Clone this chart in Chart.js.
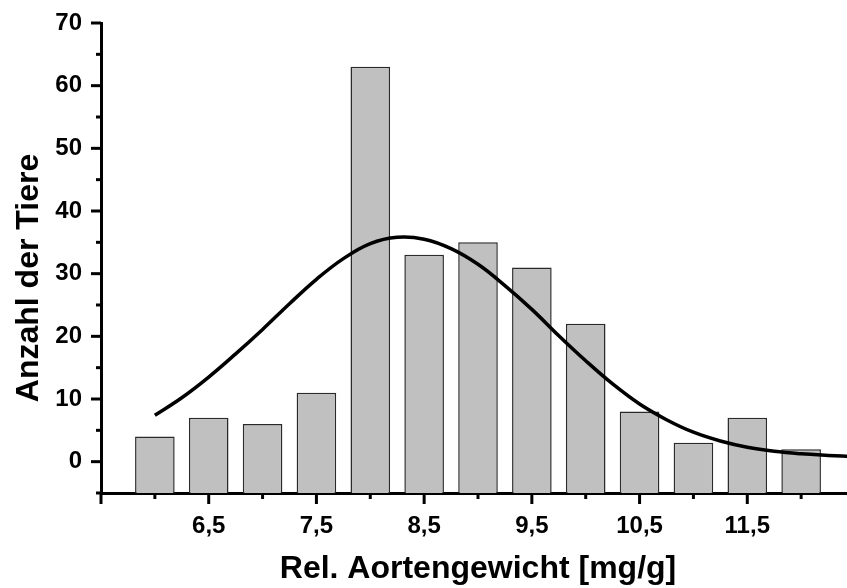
<!DOCTYPE html>
<html>
<head>
<meta charset="utf-8">
<title>Rel. Aortengewicht</title>
<script src="https://cdn.jsdelivr.net/npm/chart.js@4.4.0/dist/chart.umd.min.js"></script>
<style>
  html, body { margin: 0; padding: 0; background: #fff; overflow: hidden; }
  #wrap { width: 847px; height: 588px; overflow: hidden; }
</style>
</head>
<body>
<div id="wrap"><canvas id="histChart" width="855" height="588"></canvas></div>
<script>
// histogram bins (class centre in mg/g) and number of animals per bin
const binCenters = [6, 6.5, 7, 7.5, 8, 8.5, 9, 9.5, 10, 10.5, 11, 11.5, 12];
const animalCounts = [4, 7, 6, 11, 63, 33, 35, 31, 22, 8, 3, 7, 2];

// fitted normal curve, sampled every 0.25 mg/g
const fitX = [6, 6.25, 6.5, 6.75, 7, 7.25, 7.5, 7.75, 8, 8.25, 8.5, 8.75, 9,
              9.25, 9.5, 9.75, 10, 10.25, 10.5, 10.75, 11, 11.25, 11.5, 11.75, 12, 12.25, 12.5];
const fitY = [7.4, 10.2, 13.5, 17.2, 21.1, 25.2, 29.1, 32.4, 34.8, 35.8, 35.5, 34.0, 31.5,
              28.1, 24.3, 20.1, 16.1, 12.4, 9.2, 6.7, 4.7, 3.3, 2.3, 1.65, 1.25, 1.0, 0.8];

// axis ticks
const xLabelValues = [6.5, 7.5, 8.5, 9.5, 10.5, 11.5];
const xMajorTicks = [5.5, 6.5, 7.5, 8.5, 9.5, 10.5, 11.5, 12.5];
const xMinorTicks = [6, 7, 8, 9, 10, 11, 12];
const yMajorTicks = [0, 10, 20, 30, 40, 50, 60, 70];
const yMinorTicks = [-5, 5, 15, 25, 35, 45, 55, 65];

const xTitle = 'Rel. Aortengewicht [mg/g]';
const yTitle = 'Anzahl der Tiere';

const fontFamily = "'Liberation Sans', Arial, sans-serif";

// outward tick marks, major ones longer than minor ones
const axisTicks = {
    id: 'axisTicks',
    afterDraw(chart) {
        const { ctx, chartArea, scales: { x, y } } = chart;
        const line = (x1, y1, x2, y2) => {
            ctx.beginPath();
            ctx.moveTo(x1, y1);
            ctx.lineTo(x2, y2);
            ctx.stroke();
        };
        ctx.save();
        ctx.strokeStyle = '#000';
        ctx.lineWidth = 3;
        xMajorTicks.forEach(v => {
            const px = x.getPixelForValue(v);
            line(px, chartArea.bottom, px, chartArea.bottom + 11);
        });
        xMinorTicks.forEach(v => {
            const px = x.getPixelForValue(v);
            line(px, chartArea.bottom, px, chartArea.bottom + 6);
        });
        yMajorTicks.forEach(v => {
            const py = y.getPixelForValue(v);
            line(chartArea.left, py, chartArea.left - 10, py);
        });
        yMinorTicks.forEach(v => {
            const py = y.getPixelForValue(v);
            line(chartArea.left, py, chartArea.left - 5, py);
        });
        ctx.restore();
    }
};

// rotated y axis title, sits a little below the middle of the axis
const yAxisTitle = {
    id: 'yAxisTitle',
    afterDraw(chart) {
        const { ctx } = chart;
        ctx.save();
        ctx.translate(29, 278);
        ctx.rotate(-Math.PI / 2);
        ctx.font = `bold 32px ${fontFamily}`;
        ctx.fillStyle = '#000';
        ctx.textAlign = 'center';
        ctx.textBaseline = 'middle';
        ctx.fillText(yTitle, 0, 0);
        ctx.restore();
    }
};

const ctx = document.getElementById('histChart').getContext('2d');

new Chart(ctx, {
    type: 'bar',
    data: {
        datasets: [
            {
                type: 'line',
                data: fitX.map((x, i) => ({ x: x, y: fitY[i] })),
                borderColor: '#000',
                borderWidth: 3.5,
                pointRadius: 0,
                tension: 0.4,
                fill: false,
                order: 0
            },
            {
                type: 'bar',
                data: binCenters.map((x, i) => ({ x: x, y: animalCounts[i] })),
                backgroundColor: '#c0c0c0',
                borderColor: '#2a2a2a',
                borderWidth: 1.5,
                base: -5,
                barPercentage: 0.735,
                categoryPercentage: 1,
                order: 1
            }
        ]
    },
    options: {
        responsive: false,
        animation: false,
        layout: { padding: { top: 23, left: 0, right: 0, bottom: 0 } },
        plugins: {
            legend: { display: false },
            tooltip: { enabled: false }
        },
        scales: {
            x: {
                type: 'linear',
                min: 5.5,
                max: 12.5,
                offset: false,
                grid: { display: false, drawTicks: false },
                border: { display: true, color: '#000', width: 3 },
                ticks: {
                    stepSize: 0.5,
                    autoSkip: false,
                    maxRotation: 0,
                    padding: 19,
                    color: '#000',
                    font: { family: fontFamily, size: 24, weight: 'bold' },
                    callback: v => xLabelValues.includes(v) ? v.toFixed(1).replace('.', ',') : ''
                },
                title: {
                    display: true,
                    text: xTitle,
                    color: '#000',
                    font: { family: fontFamily, size: 32, weight: 'bold' },
                    padding: { top: 0, bottom: 0 }
                },
                afterFit: scale => {
                    scale.height = 95;
                    scale.paddingLeft = 0;
                    scale.paddingRight = 0;
                }
            },
            y: {
                min: -5,
                max: 70,
                grid: { display: false, drawTicks: false },
                border: { display: true, color: '#000', width: 3 },
                ticks: {
                    stepSize: 5,
                    autoSkip: false,
                    padding: 19,
                    color: '#000',
                    font: { family: fontFamily, size: 24, weight: 'bold' },
                    callback: v => (v >= 0 && v % 10 === 0) ? String(v) : ''
                },
                title: { display: false },
                afterFit: scale => {
                    scale.width = 101;
                    scale.paddingTop = 0;
                    scale.paddingBottom = 0;
                }
            }
        }
    },
    plugins: [axisTicks, yAxisTitle]
});
</script>
</body>
</html>
